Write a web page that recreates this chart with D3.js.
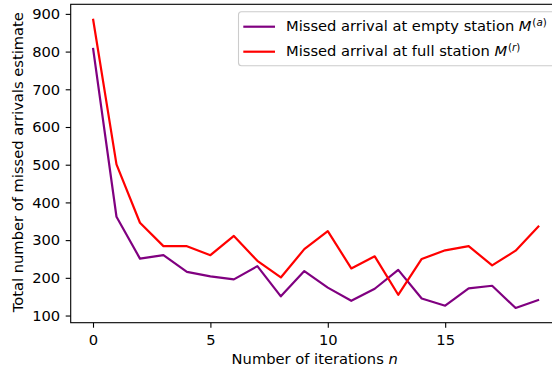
<!DOCTYPE html>
<html><head><meta charset="utf-8">
<script src="https://cdn.jsdelivr.net/npm/d3@7"></script>
<style>
html,body{margin:0;padding:0;background:#fff;overflow:hidden}
text{font-family:"DejaVu Sans",sans-serif;fill:#000}
</style></head>
<body>
<svg id="c" width="552" height="371"></svg>
<script>
const iterations = d3.range(0, 20);
const missedEmpty = [810, 362, 251, 260, 216, 204, 196, 231, 151, 218, 174, 139, 171, 221, 145, 126, 172, 179, 120, 142];
const missedFull  = [887, 501, 346, 284, 284, 260, 311, 245, 201, 276, 324, 225, 257, 155, 250, 273, 284, 233, 272, 338];
const xTicks = [0, 5, 10, 15];
const yTicks = [100, 200, 300, 400, 500, 600, 700, 800, 900];
const seriesNames = ["Missed arrival at empty station ", "Missed arrival at full station "];
const seriesSup = ["a", "r"];
const colors = ["#800080", "#ff0000"];

const FS = 14.7;
const svg = d3.select("#c");
const L = 70.7, R = 561.4, T = 4.3, B = 322.7;
const x = d3.scaleLinear().domain([-0.95, 19.95]).range([L, R]);
const y = d3.scaleLinear().domain([81, 925.4]).range([B, T]);

// lines
const line = d3.line().x((d, i) => x(iterations[i])).y(d => y(d));
[missedEmpty, missedFull].forEach((s, k) => {
  svg.append("path").datum(s).attr("d", line)
    .attr("fill", "none").attr("stroke", colors[k]).attr("stroke-width", 2.2)
    .attr("stroke-linejoin", "round").attr("stroke-linecap", "butt");
});

// axes
const xAxis = d3.axisBottom(x).tickValues(xTicks).tickSize(5).tickPadding(5).tickFormat(d3.format("d"));
const yAxis = d3.axisLeft(y).tickValues(yTicks).tickSize(5).tickPadding(5.5).tickFormat(d3.format("d"));
const gx = svg.append("g").attr("transform", `translate(0,${B})`).call(xAxis);
const gy = svg.append("g").attr("transform", `translate(${L},0)`).call(yAxis);
[gx, gy].forEach(g => {
  g.select(".domain").remove();
  g.selectAll("line").attr("stroke", "#000").attr("stroke-width", 1.1);
  g.selectAll("text").attr("font-size", FS).attr("fill", "#000").style("font-family", "DejaVu Sans");
});
gx.selectAll("text").attr("y", 22.3).attr("dy", 0);

// spines
svg.append("rect").attr("x", L).attr("y", T).attr("width", R - L).attr("height", B - T)
  .attr("fill", "none").attr("stroke", "#000").attr("stroke-width", 1.1);

// axis labels
svg.append("text").attr("x", 314.7).attr("y", 364.3).attr("text-anchor", "middle")
  .attr("font-size", FS)
  .call(t => { t.append("tspan").text("Number of iterations "); t.append("tspan").attr("font-style", "italic").text("n"); });
svg.append("text").attr("transform", `translate(23,162.2) rotate(-90)`)
  .attr("text-anchor", "middle").attr("font-size", FS)
  .text("Total number of missed arrivals estimate");

// legend
const lg = svg.append("g");
lg.append("rect").attr("x", 238.5).attr("y", 11.8).attr("width", 317).attr("height", 54)
  .attr("rx", 3).attr("fill", "#fff").attr("fill-opacity", 0.8)
  .attr("stroke", "#cccccc").attr("stroke-width", 1.1);
seriesNames.forEach((n, k) => {
  const yy = 26.7 + k * 25;
  lg.append("line").attr("x1", 243.3).attr("x2", 275).attr("y1", yy).attr("y2", yy)
    .attr("stroke", colors[k]).attr("stroke-width", 2.2);
  const t = lg.append("text").attr("x", 286).attr("y", yy + 4.3).attr("font-size", FS);
  t.append("tspan").text(n);
  t.append("tspan").attr("font-style", "italic").text("M");
  t.append("tspan").attr("font-size", 10.3).attr("dy", -5.5).attr("dx", 0.8).text("(");
  t.append("tspan").attr("font-size", 10.3).attr("font-style", "italic").text(seriesSup[k]);
  t.append("tspan").attr("font-size", 10.3).text(")");
});
</script>
</body></html>
